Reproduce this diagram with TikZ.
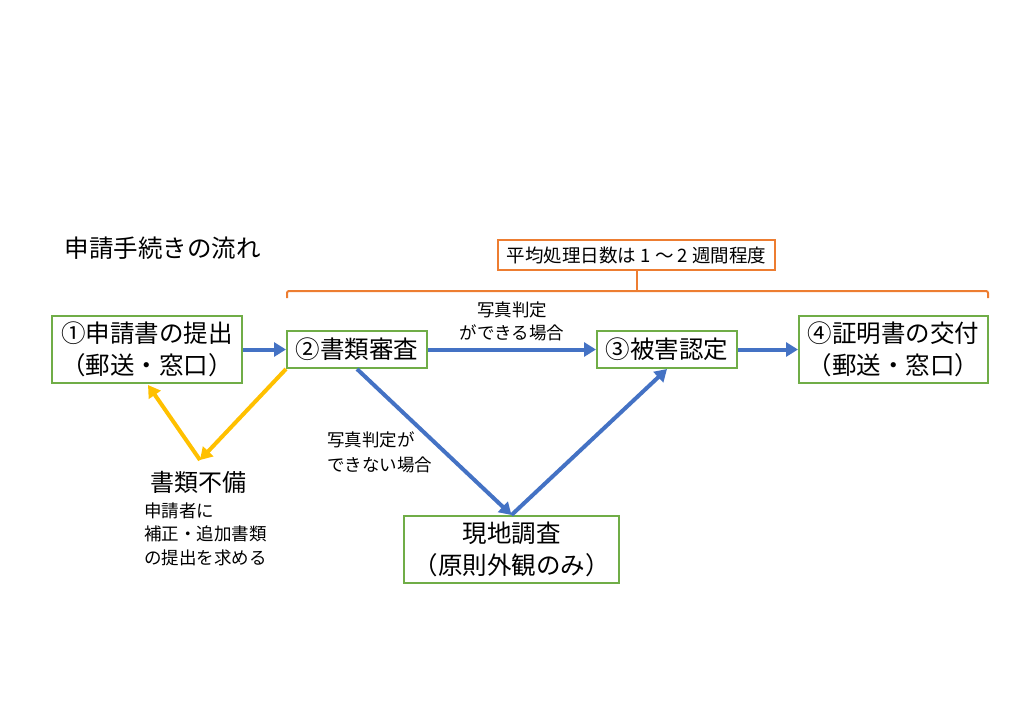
\documentclass[tikz,border=0pt]{standalone}
\usepackage{fontspec}
\setmainfont{Noto Sans CJK JP}
\usepackage{xcolor}
\usepackage{tikz}
\usetikzlibrary{arrows.meta,positioning,calc}

\definecolor{boxgreen}{HTML}{70AD47}
\definecolor{flowblue}{HTML}{4472C4}
\definecolor{backyellow}{HTML}{FFC000}
\definecolor{spanorange}{HTML}{ED7D31}

\begin{document}
\begin{tikzpicture}[
  x=1pt, y=-1pt,
  stepbox/.style={draw=boxgreen, line width=2pt, fill=white, align=center,
    inner sep=0pt, font=\fontsize{24.5}{32}\selectfont},
  flow/.style={-{Triangle[length=12pt,width=14pt]}, line width=4pt, flowblue},
  back/.style={-{Triangle[length=12pt,width=14pt]}, line width=4pt, backyellow},
  note/.style={align=left, inner sep=0pt, text=black}
]
  \useasboundingbox (0,0) rectangle (1024,724);

  \node[anchor=west, font=\fontsize{24.5}{28}\selectfont] (title) at (61,248) {申請手続きの流れ};

  \node[stepbox, minimum width=190pt, minimum height=67pt] (apply) at (147,349.5) {①申請書の提出\\（郵送・窓口）};
  \node[stepbox, minimum width=140pt, minimum height=37pt] (check) at (357,349.5) {②書類審査};
  \node[stepbox, minimum width=140pt, minimum height=37pt] (judge) at (667,349.5) {③被害認定};
  \node[stepbox, minimum width=189pt, minimum height=67pt] (issue) at (893.5,349.5) {④証明書の交付\\（郵送・窓口）};
  \node[stepbox, minimum width=215pt, minimum height=67pt] (survey) at (511.5,549.5) {現地調査\\（原則外観のみ）};

  % average period
  \node[draw=spanorange, line width=2pt, minimum width=277pt, minimum height=30pt,
    inner sep=0pt, font=\fontsize{18.5}{20}\selectfont] (period) at (636.5,255) {平均処理日数は 1 ～ 2 週間程度};
  \coordinate (spanL) at (287,298);
  \coordinate (spanR) at (988,298);
  \draw[spanorange, line width=2pt, rounded corners=2pt]
    (spanL) -- (spanL |- 0,291) -- (spanR |- 0,291) -- (spanR);
  \draw[spanorange, line width=2pt] (period.south) -- (period.south |- 0,291);

  % main flow
  \draw[flow] (apply) -- (check);
  \draw[flow] (check) -- node[note, above=7pt, align=center, font=\fontsize{17.5}{23}\selectfont] {写真判定\\ができる場合} (judge);
  \draw[flow] (judge) -- (issue);
  \draw[flow] (check.south) -- (survey.north);
  \draw[flow] (survey.north) -- (judge.south);
  \node[note, anchor=west, font=\fontsize{17.5}{25}\selectfont] (ngnote) at (327,452) {写真判定が\\できない場合};

  % incomplete documents
  \node[font=\fontsize{24}{28}\selectfont] (fubi) at (198,482) {書類不備};
  \coordinate (kink) at (200,460);
  \draw[back] (check.south west) -- (kink);
  \draw[back] (kink) -- (148,385);
  \node[note, anchor=west, font=\fontsize{17.5}{23.5}\selectfont] (fubinote) at (144,534) {申請者に\\補正・追加書類\\の提出を求める};
\end{tikzpicture}
\end{document}
